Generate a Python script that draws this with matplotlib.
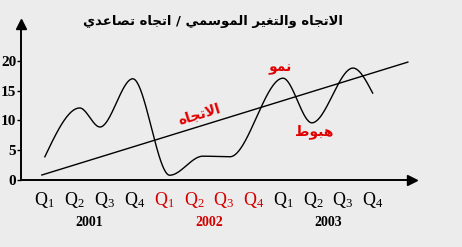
import numpy as np
import matplotlib
matplotlib.use('Agg')
import matplotlib.pyplot as plt

# --- data ---
quarters = ['Q_1', 'Q_2', 'Q_3', 'Q_4'] * 3
years = ['2001', '2002', '2003']
year_colors = ['black', '#d40000', 'black']

# turning points of the seasonal curve (x in quarter index, 1 = Q1 2001)
curve_q = [1.0, 2.17, 2.85, 3.95, 5.19, 6.30, 7.21, 8.99, 9.96, 11.34, 12.0]
curve_v = [3.9, 12.1, 8.9, 17.0, 0.8, 4.0, 3.9, 17.1, 9.6, 18.8, 14.6]

# trend line end points
trend_q = [0.9, 13.18]
trend_v = [0.84, 19.8]

yticks = [0, 5, 10, 15, 20]

title = 'الاتجاه والتغير الموسمي / اتجاه تصاعدي'
lbl_trend = 'الاتجاه'
lbl_up = 'نمو'
lbl_down = 'هبوط'

RED = '#e00000'
BG = '#ececec'

# --- minimal arabic shaping (matplotlib has no bidi / joining) ---
FORMS = {
    'ا': (0xFE8D, 0xFE8E, None, None),
    'ب': (0xFE8F, 0xFE90, 0xFE91, 0xFE92),
    'ت': (0xFE95, 0xFE96, 0xFE97, 0xFE98),
    'ج': (0xFE9D, 0xFE9E, 0xFE9F, 0xFEA0),
    'د': (0xFEA9, 0xFEAA, None, None),
    'ر': (0xFEAD, 0xFEAE, None, None),
    'س': (0xFEB1, 0xFEB2, 0xFEB3, 0xFEB4),
    'ص': (0xFEB9, 0xFEBA, 0xFEBB, 0xFEBC),
    'ط': (0xFEC1, 0xFEC2, 0xFEC3, 0xFEC4),
    'ع': (0xFEC9, 0xFECA, 0xFECB, 0xFECC),
    'غ': (0xFECD, 0xFECE, 0xFECF, 0xFED0),
    'ل': (0xFEDD, 0xFEDE, 0xFEDF, 0xFEE0),
    'م': (0xFEE1, 0xFEE2, 0xFEE3, 0xFEE4),
    'ن': (0xFEE5, 0xFEE6, 0xFEE7, 0xFEE8),
    'ه': (0xFEE9, 0xFEEA, 0xFEEB, 0xFEEC),
    'و': (0xFEED, 0xFEEE, None, None),
    'ي': (0xFEF1, 0xFEF2, 0xFEF3, 0xFEF4),
    'لا': (0xFEFB, 0xFEFC, None, None),
}


def arabic(text):
    letters = []
    i = 0
    while i < len(text):
        if text[i] == 'ل' and i + 1 < len(text) and text[i + 1] == 'ا':
            letters.append('لا')
            i += 2
        else:
            letters.append(text[i])
            i += 1
    out = []
    for j, c in enumerate(letters):
        if c not in FORMS:
            out.append(c)
            continue
        prev = letters[j - 1] if j > 0 else None
        nxt = letters[j + 1] if j + 1 < len(letters) else None
        jp = prev in FORMS and FORMS[prev][2] is not None
        jn = nxt in FORMS and FORMS[c][2] is not None
        f = FORMS[c]
        if jp and jn:
            out.append(chr(f[3]))
        elif jp:
            out.append(chr(f[1]))
        elif jn:
            out.append(chr(f[2]))
        else:
            out.append(chr(f[0]))
    return ''.join(out)[::-1]


def smooth(xs, ys, n=400):
    # monotone cubic through the turning points
    xs = np.asarray(xs, float)
    ys = np.asarray(ys, float)
    d = np.diff(ys) / np.diff(xs)
    m = np.zeros_like(ys)
    for k in range(1, len(ys) - 1):
        if d[k - 1] * d[k] > 0:
            m[k] = 2 / (1 / d[k - 1] + 1 / d[k])
    m[0] = 1.5 * d[0]
    m[-1] = 1.5 * d[-1]
    xx = np.linspace(xs[0], xs[-1], n)
    idx = np.clip(np.searchsorted(xs, xx) - 1, 0, len(xs) - 2)
    h = xs[idx + 1] - xs[idx]
    t = (xx - xs[idx]) / h
    h00 = 2 * t**3 - 3 * t**2 + 1
    h10 = t**3 - 2 * t**2 + t
    h01 = -2 * t**3 + 3 * t**2
    h11 = t**3 - t**2
    yy = h00 * ys[idx] + h10 * h * m[idx] + h01 * ys[idx + 1] + h11 * h * m[idx + 1]
    return xx, yy


plt.rcParams['mathtext.fontset'] = 'custom'
plt.rcParams['mathtext.rm'] = 'Liberation Serif'

W, H = 462, 247
fig = plt.figure(figsize=(W / 100, H / 100), dpi=100)
fig.patch.set_facecolor(BG)
ax = fig.add_axes([21 / W, (H - 180) / H, (412 - 21) / W, (180 - 24) / H])
ax.set_facecolor('none')

ax.set_xlim(0.2, 13.32)
ax.set_ylim(0, 26.2)

cx, cy = smooth(curve_q, curve_v)
ax.plot(cx, cy, color='black', lw=1.0)
ax.plot(trend_q, trend_v, color='black', lw=1.0)

for s in ['top', 'right']:
    ax.spines[s].set_visible(False)
ax.spines['left'].set_linewidth(1.4)
ax.spines['bottom'].set_linewidth(1.4)
ax.plot(1, 0, '>', color='black', ms=7, transform=ax.transAxes, clip_on=False)
ax.plot(0, 1, '^', color='black', ms=7, transform=ax.transAxes, clip_on=False)

ax.set_yticks(yticks)
ax.set_yticklabels([str(v) for v in yticks], family='Liberation Serif',
                   fontweight='bold', fontsize=11)
ax.tick_params(axis='y', direction='out', length=3, width=1, pad=0.5)

ax.set_xticks(range(1, 13))
ax.set_xticklabels(['$\\mathrm{' + q + '}$' for q in quarters], fontsize=13)
ax.tick_params(axis='x', length=0, pad=7.5)
for i, t in enumerate(ax.get_xticklabels()):
    t.set_color(year_colors[i // 4])

for i, y in enumerate(years):
    ax.text(2.5 + 4 * i, -42 / 5.95, y, ha='center', va='center',
            family='Liberation Serif', fontweight='bold', fontsize=10,
            color=year_colors[i], clip_on=False)

ax.text(6.2, 10.9, arabic(lbl_trend), color=RED, fontsize=10, fontweight='bold',
        family='DejaVu Sans', rotation=17, ha='center', va='center')
ax.text(8.9, 18.8, arabic(lbl_up), color=RED, fontsize=10, fontweight='bold',
        family='DejaVu Sans', ha='center', va='center')
ax.text(10.05, 8.2, arabic(lbl_down), color=RED, fontsize=10, fontweight='bold',
        family='DejaVu Sans', ha='center', va='center')

fig.text(213 / W, 1 - 22 / H, arabic(title), ha='center', va='center',
         fontsize=9.5, fontweight='bold', family='DejaVu Sans')

fig.savefig('out.png', dpi=100, facecolor=BG)
